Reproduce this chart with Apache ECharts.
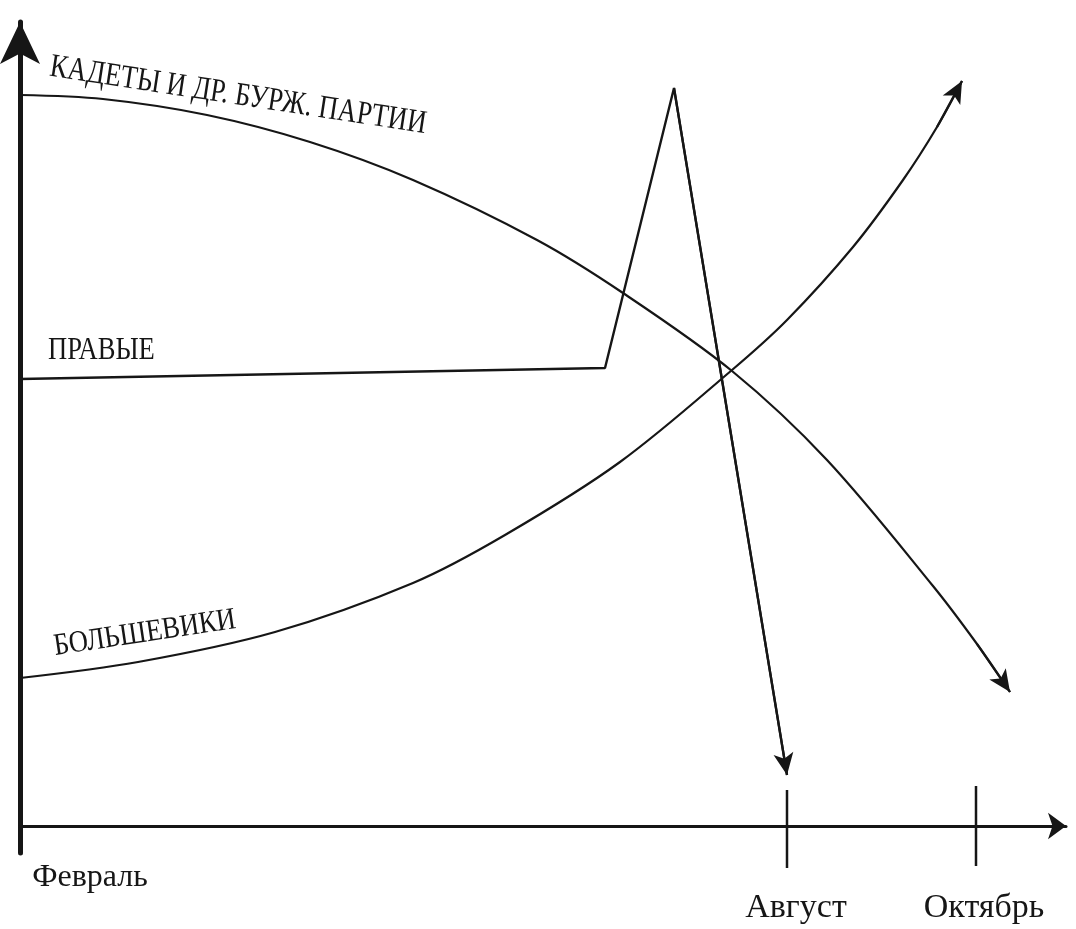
<!DOCTYPE html>
<html>
<head>
<meta charset="utf-8">
<title>Партии 1917</title>
<script src="https://cdn.jsdelivr.net/npm/echarts@6/dist/echarts.min.js"></script>
<style>
html, body { margin: 0; padding: 0; background: #fff; }
#chart { width: 1076px; height: 929px; }
</style>
</head>
<body>
<div id="chart"></div>
<script>
'use strict';
// время: условные единицы от февраля; влияние: условные единицы
var monthValues = [0, 767, 956];
var monthNames = ['Февраль', 'Август', 'Октябрь'];
// засечки на оси для Августа и Октября (верх / низ)
var tickTop = [36, 40];
var tickBottom = [-42, -40];

var kadetyX = [0, 83, 187, 290, 393, 517, 603, 712, 807, 913, 957, 990];
var kadetyY = [731, 727, 711, 684, 646, 586, 533, 455, 366, 240, 182, 134];

var bolshevikiX = [0, 118, 255, 393, 485, 600, 712, 767, 833, 883, 917, 942];
var bolshevikiY = [148, 164, 194, 243, 291, 364, 456, 506, 579, 646, 699, 745];

var pravyeX = [0, 585, 654, 767];
var pravyeY = [447, 458, 738, 51];

var ink = '#161616';

function zip(xs, ys) {
	var out = [];
	for (var i = 0; i < xs.length; i++) out.push([xs[i], ys[i]]);
	return out;
}

// стрелка на конце линии: короткий отрезок по двум последним точкам
function arrowEnd(pts) {
	var a = pts[pts.length - 2], b = pts[pts.length - 1];
	return [
		{ coord: a, symbol: 'none' },
		{ coord: b, symbol: 'arrow', symbolSize: [15, 22] }
	];
}

function curve(name, pts, smooth, width) {
	return {
		name: name,
		type: 'line',
		data: pts,
		smooth: smooth,
		symbol: 'none',
		silent: true,
		lineStyle: { color: ink, width: width },
		markLine: {
			silent: true,
			animation: false,
			label: { show: false },
			emphasis: { disabled: true },
			lineStyle: { color: ink, width: 2.2, type: 'solid' },
			data: [arrowEnd(pts)]
		}
	};
}

var kadety = zip(kadetyX, kadetyY);
var bolsheviki = zip(bolshevikiX, bolshevikiY);
var pravye = zip(pravyeX, pravyeY);

var series = [
	curve('КАДЕТЫ И ДР. БУРЖ. ПАРТИИ', kadety, 0.33, 2.2),
	curve('БОЛЬШЕВИКИ', bolsheviki, 0.33, 2.2),
	curve('ПРАВЫЕ', pravye, false, 2.4)
];

// засечки Август / Октябрь поперёк оси
for (var t = 1; t < monthValues.length; t++) {
	series.push({
		name: monthNames[t],
		type: 'line',
		data: [[monthValues[t], tickTop[t - 1]], [monthValues[t], tickBottom[t - 1]]],
		symbol: 'none',
		silent: true,
		clip: false,
		lineStyle: { color: ink, width: 2.5 }
	});
}

var serif = '"Liberation Serif", "Times New Roman", serif';

var option = {
	animation: false,
	backgroundColor: '#fff',
	grid: { left: 20, right: 10, top: 22, bottom: 76, containLabel: false, outerBoundsMode: 'none' },
	xAxis: {
		type: 'value',
		min: 0,
		max: 1046,
		axisLine: {
			onZero: true,
			symbol: ['none', 'arrow'],
			symbolSize: [20, 18],
			lineStyle: { color: ink, width: 3 }
		},
		axisTick: { show: false },
		splitLine: { show: false },
		axisLabel: {
			customValues: monthValues,
			showMinLabel: true,
			margin: 9,
			color: ink,
			fontFamily: serif,
			formatter: function (v) {
				var i = monthValues.indexOf(v);
				return '{m' + i + '|' + monthNames[i] + '}';
			},
			rich: {
				m0: { fontSize: 32, fontFamily: serif, color: ink, padding: [0, 0, 0, 140] },
				m1: { fontSize: 34, fontFamily: serif, color: ink, padding: [29, 0, 0, 18] },
				m2: { fontSize: 34, fontFamily: serif, color: ink, padding: [29, 0, 0, 16] }
			}
		}
	},
	yAxis: {
		type: 'value',
		min: -27,
		max: 804,
		axisLine: {
			show: true,
			symbol: ['none', 'arrow'],
			symbolSize: [30, 42],
			lineStyle: { color: ink, width: 5 }
		},
		axisTick: { show: false },
		axisLabel: { show: false },
		splitLine: { show: false }
	},
	series: series,
	graphic: [
		{
			type: 'text', x: 50, y: 67, rotation: -8.7 * Math.PI / 180, scaleX: 0.81,
			style: { text: 'КАДЕТЫ И ДР. БУРЖ. ПАРТИИ', fontSize: 33, fontFamily: serif, fill: ink, align: 'left', verticalAlign: 'middle' }
		},
		{
			type: 'text', x: 48, y: 351, scaleX: 0.83,
			style: { text: 'ПРАВЫЕ', fontSize: 32, fontFamily: serif, fill: ink, align: 'left', verticalAlign: 'middle' }
		},
		{
			type: 'text', x: 54, y: 647, rotation: 8.5 * Math.PI / 180, scaleX: 0.86,
			style: { text: 'БОЛЬШЕВИКИ', fontSize: 31, fontFamily: serif, fill: ink, align: 'left', verticalAlign: 'middle' }
		}
	]
};

var myChart = echarts.init(document.getElementById('chart'));
myChart.setOption(option);
window.onresize = myChart.resize;
</script>
</body>
</html>
